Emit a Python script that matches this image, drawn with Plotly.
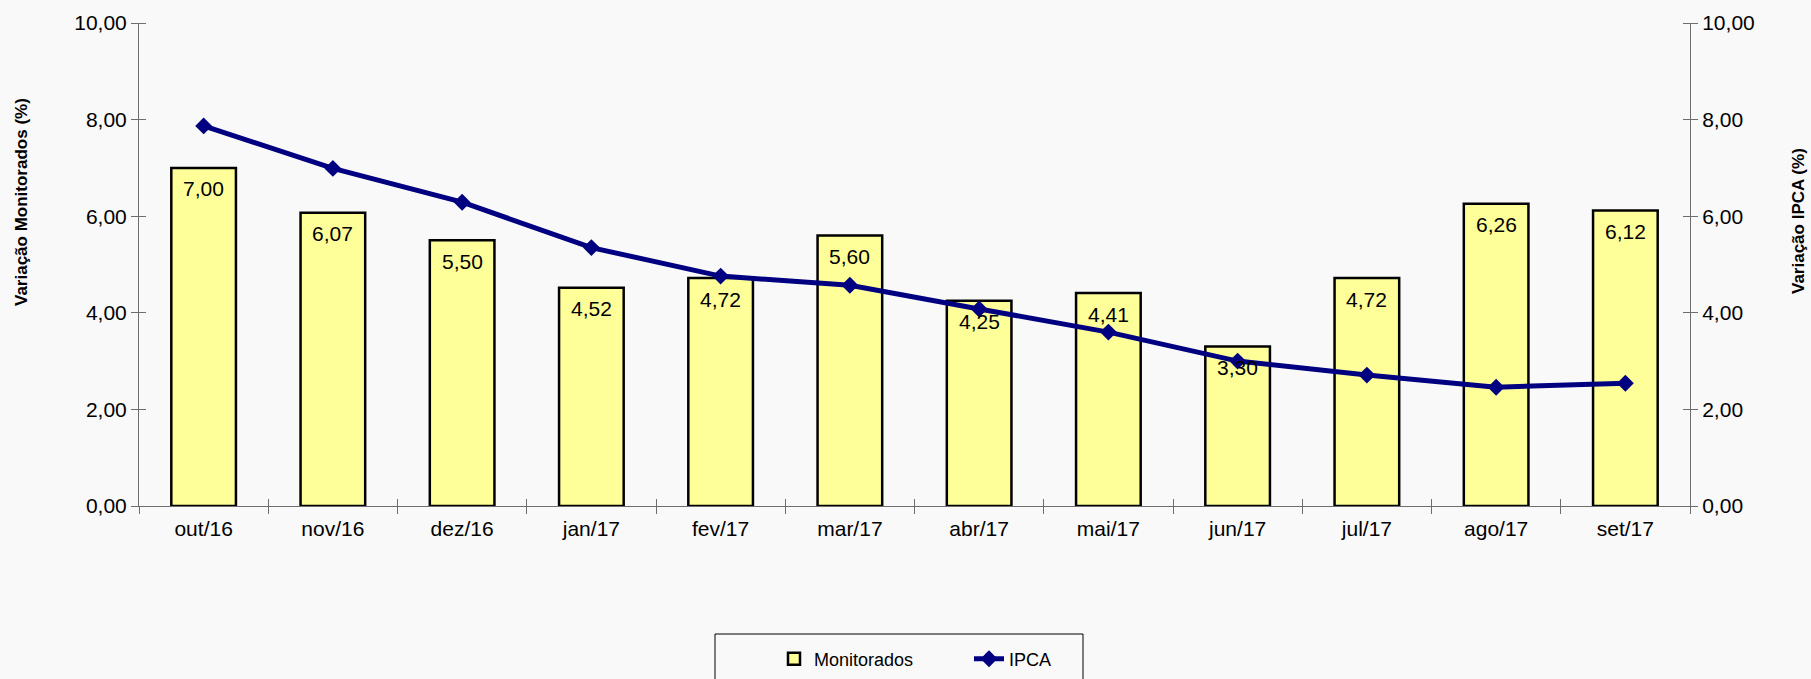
import plotly.graph_objects as go

categories = ["out/16", "nov/16", "dez/16", "jan/17", "fev/17", "mar/17",
              "abr/17", "mai/17", "jun/17", "jul/17", "ago/17", "set/17"]
monitorados = [7.00, 6.07, 5.50, 4.52, 4.72, 5.60, 4.25, 4.41, 3.30, 4.72, 6.26, 6.12]
ipca = [7.87, 6.99, 6.29, 5.35, 4.76, 4.57, 4.08, 3.60, 3.00, 2.71, 2.46, 2.54]
y_ticks = [0, 2, 4, 6, 8, 10]

W, H = 1811, 679
L, R, T, B = 139, 121, 23, 173
PW, PH = W - L - R, H - T - B

def px_x(p):
    return (p - L) / PW

def px_y(p):
    return (H - B - p) / PH

FONT = "Liberation Sans, Arial, sans-serif"
AXC = "#6e6e6e"
BG = "#f9f9f9"

fig = go.Figure()
fig.add_trace(go.Bar(
    x=categories, y=monitorados, name="Monitorados",
    marker=dict(color="#ffff99", line=dict(color="black", width=2.5)),
))
fig.add_trace(go.Scatter(
    x=categories, y=ipca, name="IPCA", yaxis="y2", mode="lines+markers",
    line=dict(color="#000080", width=5),
    marker=dict(symbol="diamond", size=13, color="#000080"),
))
# helper trace for crossing ticks on the category axis
fig.add_trace(go.Scatter(
    x=categories, y=[None] * len(categories), xaxis="x2", showlegend=False,
    hoverinfo="skip", mode="markers",
))

minor_vals = [v + 0.0001 for v in y_ticks]
yaxis_common = dict(
    range=[0, 10], tickvals=y_ticks, tickformat=".2f",
    ticks="outside", ticklen=7, tickcolor=AXC, tickwidth=1,
    showline=True, linecolor=AXC, linewidth=1, showgrid=False, zeroline=False,
    tickfont=dict(family=FONT, size=21, color="black"),
    minor=dict(tickmode="array", tickvals=minor_vals, ticks="inside",
               ticklen=7, tickcolor=AXC, tickwidth=1, showgrid=False),
)

label_annotations = [
    dict(x=c, y=v, xref="x", yref="y", text=f"{v:.2f}".replace(".", ","),
         showarrow=False, yanchor="middle", yshift=-21,
         font=dict(family=FONT, size=21, color="black"))
    for c, v in zip(categories, monitorados)
]

fig.update_layout(
    width=W, height=H,
    margin=dict(l=L, r=R, t=T, b=B, autoexpand=False),
    paper_bgcolor=BG, plot_bgcolor=BG,
    separators=",.",
    bargap=0.5,
    font=dict(family=FONT, size=21, color="black"),
    xaxis=dict(
        type="category", categoryorder="array", categoryarray=categories,
        range=[-0.5, len(categories) - 0.5],
        tickson="boundaries", ticks="outside", ticklen=7, tickcolor=AXC,
        showline=True, linecolor=AXC, linewidth=1, showgrid=False,
        tickfont=dict(family=FONT, size=21, color="black"),
        ticklabelstandoff=4,
    ),
    xaxis2=dict(
        type="category", categoryorder="array", categoryarray=categories,
        overlaying="x", matches="x", side="bottom",
        tickson="boundaries", ticks="inside", ticklen=7, tickcolor=AXC,
        showticklabels=False, showline=False, showgrid=False,
    ),
    yaxis=dict(side="left", **yaxis_common),
    yaxis2=dict(side="right", overlaying="y", **yaxis_common),
    showlegend=True,
    legend=dict(
        orientation="h", xanchor="left", yanchor="middle",
        x=px_x(774), y=px_y(659),
        bgcolor="rgba(0,0,0,0)", borderwidth=0,
        font=dict(family=FONT, size=18, color="black"),
        entrywidth=150, entrywidthmode="pixels",
    ),
    annotations=label_annotations + [
        dict(text="<b>Variação Monitorados (%)</b>", textangle=-90,
             xref="paper", yref="paper", x=px_x(21), y=px_y(202),
             xanchor="center", yanchor="middle",
             showarrow=False, font=dict(family=FONT, size=17, color="black")),
        dict(text="<b>Variação IPCA (%)</b>", textangle=-90,
             xref="paper", yref="paper", x=px_x(1798), y=px_y(221),
             xanchor="center", yanchor="middle",
             showarrow=False, font=dict(family=FONT, size=17, color="black")),
    ],
    shapes=[
        dict(type="rect", xref="paper", yref="paper",
             x0=px_x(715), x1=px_x(1083), y0=px_y(720), y1=px_y(634),
             line=dict(color="black", width=1), fillcolor="rgba(0,0,0,0)"),
    ],
)

fig.write_html(
    "out.html",
    config={"displayModeBar": False},
    post_script="document.body.style.margin='0';document.body.style.background='#f9f9f9';"
                "document.body.style.overflow='hidden';",
)
